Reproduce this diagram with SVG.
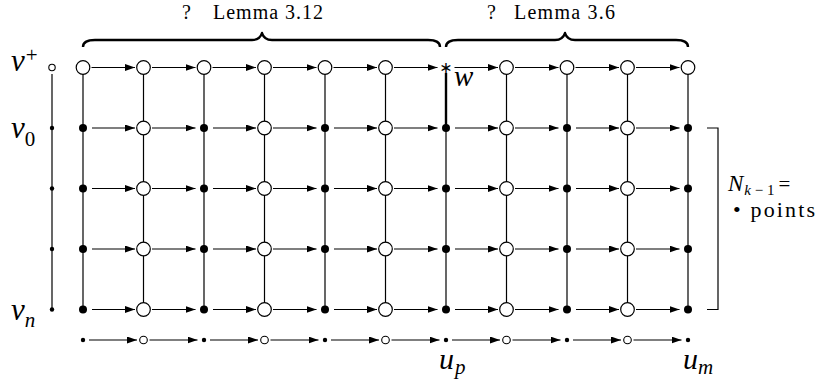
<svg xmlns="http://www.w3.org/2000/svg" xmlns:xlink="http://www.w3.org/1999/xlink" width="817" height="381" viewBox="0 0 817 381">
<style>
.ln{stroke:#000;stroke-width:1.2;fill:none}
.thick{stroke:#000;stroke-width:2.4;fill:none}
.brace{stroke:#000;stroke-width:2.4;fill:none;stroke-linejoin:round}
.ar{stroke:#000;stroke-width:1.2;marker-end:url(#ah)}
.m{font-style:italic}
</style>
<defs>
<marker id="ah" markerUnits="userSpaceOnUse" markerWidth="11" markerHeight="7" refX="10" refY="3.5" orient="auto"><path d="M0,0 L10,3.5 L0,7 z" fill="#000"/></marker>
<circle id="OC" r="6.8" fill="#fff" stroke="#000" stroke-width="1.2"/>
<circle id="FD" r="4" fill="#000"/>
<circle id="SD" r="2.2" fill="#000"/>
<circle id="SO" r="3.8" fill="#fff" stroke="#000" stroke-width="1.1"/>
<circle id="TO" r="3.2" fill="#fff" stroke="#000" stroke-width="1.1"/>
</defs>

<g id="braces">
<path class="brace" d="M83,47 Q83,40 95,40 L252,40 Q260,40 262,33 Q264,40 272,40 L428,40 Q440,40 440,47"/>
<path class="brace" d="M446,47 Q446,40 458,40 L555,40 Q563,40 565,33 Q567,40 575,40 L676,40 Q688,40 688,47"/>
<path class="ln" d="M707,128 H718 V309.5 H707"/>
</g>

<g id="connectors">
<line class="ln" x1="52" y1="74" x2="52" y2="309.5"/>
<line class="ln" x1="83" y1="74" x2="83" y2="309.5"/>
<line class="ln" x1="143.5" y1="74" x2="143.5" y2="309.5"/>
<line class="ln" x1="204" y1="74" x2="204" y2="309.5"/>
<line class="ln" x1="264.5" y1="74" x2="264.5" y2="309.5"/>
<line class="ln" x1="325" y1="74" x2="325" y2="309.5"/>
<line class="ln" x1="385.5" y1="74" x2="385.5" y2="309.5"/>
<line class="thick" x1="446" y1="73" x2="446" y2="128"/>
<line class="ln" x1="446" y1="128" x2="446" y2="309.5"/>
<line class="ln" x1="506.5" y1="74" x2="506.5" y2="309.5"/>
<line class="ln" x1="567" y1="74" x2="567" y2="309.5"/>
<line class="ln" x1="627.5" y1="74" x2="627.5" y2="309.5"/>
<line class="ln" x1="688" y1="74" x2="688" y2="309.5"/>

<line class="ar" x1="91.5" y1="67.5" x2="135" y2="67.5"/>
<line class="ar" x1="152" y1="67.5" x2="195.5" y2="67.5"/>
<line class="ar" x1="212.5" y1="67.5" x2="256" y2="67.5"/>
<line class="ar" x1="273" y1="67.5" x2="316.5" y2="67.5"/>
<line class="ar" x1="333.5" y1="67.5" x2="377" y2="67.5"/>
<line class="ar" x1="394" y1="67.5" x2="437.5" y2="67.5"/>
<line class="ar" x1="454.5" y1="67.5" x2="498" y2="67.5"/>
<line class="ar" x1="515" y1="67.5" x2="558.5" y2="67.5"/>
<line class="ar" x1="575.5" y1="67.5" x2="619" y2="67.5"/>
<line class="ar" x1="636" y1="67.5" x2="679.5" y2="67.5"/>

<line class="ar" x1="92" y1="128" x2="135" y2="128"/>
<line class="ar" x1="152" y1="128" x2="195.5" y2="128"/>
<line class="ar" x1="213" y1="128" x2="256" y2="128"/>
<line class="ar" x1="273" y1="128" x2="316.5" y2="128"/>
<line class="ar" x1="334" y1="128" x2="377" y2="128"/>
<line class="ar" x1="394" y1="128" x2="437.5" y2="128"/>
<line class="ar" x1="455" y1="128" x2="498" y2="128"/>
<line class="ar" x1="515" y1="128" x2="558.5" y2="128"/>
<line class="ar" x1="576" y1="128" x2="619" y2="128"/>
<line class="ar" x1="636" y1="128" x2="679.5" y2="128"/>

<line class="ar" x1="92" y1="188.5" x2="135" y2="188.5"/>
<line class="ar" x1="152" y1="188.5" x2="195.5" y2="188.5"/>
<line class="ar" x1="213" y1="188.5" x2="256" y2="188.5"/>
<line class="ar" x1="273" y1="188.5" x2="316.5" y2="188.5"/>
<line class="ar" x1="334" y1="188.5" x2="377" y2="188.5"/>
<line class="ar" x1="394" y1="188.5" x2="437.5" y2="188.5"/>
<line class="ar" x1="455" y1="188.5" x2="498" y2="188.5"/>
<line class="ar" x1="515" y1="188.5" x2="558.5" y2="188.5"/>
<line class="ar" x1="576" y1="188.5" x2="619" y2="188.5"/>
<line class="ar" x1="636" y1="188.5" x2="679.5" y2="188.5"/>

<line class="ar" x1="92" y1="249" x2="135" y2="249"/>
<line class="ar" x1="152" y1="249" x2="195.5" y2="249"/>
<line class="ar" x1="213" y1="249" x2="256" y2="249"/>
<line class="ar" x1="273" y1="249" x2="316.5" y2="249"/>
<line class="ar" x1="334" y1="249" x2="377" y2="249"/>
<line class="ar" x1="394" y1="249" x2="437.5" y2="249"/>
<line class="ar" x1="455" y1="249" x2="498" y2="249"/>
<line class="ar" x1="515" y1="249" x2="558.5" y2="249"/>
<line class="ar" x1="576" y1="249" x2="619" y2="249"/>
<line class="ar" x1="636" y1="249" x2="679.5" y2="249"/>

<line class="ar" x1="92" y1="309.5" x2="135" y2="309.5"/>
<line class="ar" x1="152" y1="309.5" x2="195.5" y2="309.5"/>
<line class="ar" x1="213" y1="309.5" x2="256" y2="309.5"/>
<line class="ar" x1="273" y1="309.5" x2="316.5" y2="309.5"/>
<line class="ar" x1="334" y1="309.5" x2="377" y2="309.5"/>
<line class="ar" x1="394" y1="309.5" x2="437.5" y2="309.5"/>
<line class="ar" x1="455" y1="309.5" x2="498" y2="309.5"/>
<line class="ar" x1="515" y1="309.5" x2="558.5" y2="309.5"/>
<line class="ar" x1="576" y1="309.5" x2="619" y2="309.5"/>
<line class="ar" x1="636" y1="309.5" x2="679.5" y2="309.5"/>

<line class="ar" x1="89" y1="340" x2="137" y2="340"/>
<line class="ar" x1="149.5" y1="340" x2="197.5" y2="340"/>
<line class="ar" x1="210" y1="340" x2="258" y2="340"/>
<line class="ar" x1="270.5" y1="340" x2="318.5" y2="340"/>
<line class="ar" x1="331" y1="340" x2="379" y2="340"/>
<line class="ar" x1="391.5" y1="340" x2="439.5" y2="340"/>
<line class="ar" x1="452" y1="340" x2="500" y2="340"/>
<line class="ar" x1="512.5" y1="340" x2="560.5" y2="340"/>
<line class="ar" x1="573" y1="340" x2="621" y2="340"/>
<line class="ar" x1="633.5" y1="340" x2="681.5" y2="340"/>
</g>

<g id="nodes">
<g id="vplus"><use xlink:href="#TO" x="52" y="67.5"/></g>
<g id="L1"><use xlink:href="#SD" x="52" y="128"/></g>
<g id="L2"><use xlink:href="#SD" x="52" y="188.5"/></g>
<g id="L3"><use xlink:href="#SD" x="52" y="249"/></g>
<g id="L4"><use xlink:href="#SD" x="52" y="309.5"/></g>

<g id="T0"><use xlink:href="#OC" x="83" y="67.5"/></g>
<g id="T1"><use xlink:href="#OC" x="143.5" y="67.5"/></g>
<g id="T2"><use xlink:href="#OC" x="204" y="67.5"/></g>
<g id="T3"><use xlink:href="#OC" x="264.5" y="67.5"/></g>
<g id="T4"><use xlink:href="#OC" x="325" y="67.5"/></g>
<g id="T5"><use xlink:href="#OC" x="385.5" y="67.5"/></g>
<g id="T6"><text x="446" y="73" text-anchor="middle" font-family="DejaVu Sans,sans-serif" font-size="16">∗</text></g>
<g id="T7"><use xlink:href="#OC" x="506.5" y="67.5"/></g>
<g id="T8"><use xlink:href="#OC" x="567" y="67.5"/></g>
<g id="T9"><use xlink:href="#OC" x="627.5" y="67.5"/></g>
<g id="T10"><use xlink:href="#OC" x="688" y="67.5"/></g>

<g id="R1C0"><use xlink:href="#FD" x="83" y="128"/></g>
<g id="R1C1"><use xlink:href="#OC" x="143.5" y="128"/></g>
<g id="R1C2"><use xlink:href="#FD" x="204" y="128"/></g>
<g id="R1C3"><use xlink:href="#OC" x="264.5" y="128"/></g>
<g id="R1C4"><use xlink:href="#FD" x="325" y="128"/></g>
<g id="R1C5"><use xlink:href="#OC" x="385.5" y="128"/></g>
<g id="R1C6"><use xlink:href="#FD" x="446" y="128"/></g>
<g id="R1C7"><use xlink:href="#OC" x="506.5" y="128"/></g>
<g id="R1C8"><use xlink:href="#FD" x="567" y="128"/></g>
<g id="R1C9"><use xlink:href="#OC" x="627.5" y="128"/></g>
<g id="R1C10"><use xlink:href="#FD" x="688" y="128"/></g>

<g id="R2C0"><use xlink:href="#FD" x="83" y="188.5"/></g>
<g id="R2C1"><use xlink:href="#OC" x="143.5" y="188.5"/></g>
<g id="R2C2"><use xlink:href="#FD" x="204" y="188.5"/></g>
<g id="R2C3"><use xlink:href="#OC" x="264.5" y="188.5"/></g>
<g id="R2C4"><use xlink:href="#FD" x="325" y="188.5"/></g>
<g id="R2C5"><use xlink:href="#OC" x="385.5" y="188.5"/></g>
<g id="R2C6"><use xlink:href="#FD" x="446" y="188.5"/></g>
<g id="R2C7"><use xlink:href="#OC" x="506.5" y="188.5"/></g>
<g id="R2C8"><use xlink:href="#FD" x="567" y="188.5"/></g>
<g id="R2C9"><use xlink:href="#OC" x="627.5" y="188.5"/></g>
<g id="R2C10"><use xlink:href="#FD" x="688" y="188.5"/></g>

<g id="R3C0"><use xlink:href="#FD" x="83" y="249"/></g>
<g id="R3C1"><use xlink:href="#OC" x="143.5" y="249"/></g>
<g id="R3C2"><use xlink:href="#FD" x="204" y="249"/></g>
<g id="R3C3"><use xlink:href="#OC" x="264.5" y="249"/></g>
<g id="R3C4"><use xlink:href="#FD" x="325" y="249"/></g>
<g id="R3C5"><use xlink:href="#OC" x="385.5" y="249"/></g>
<g id="R3C6"><use xlink:href="#FD" x="446" y="249"/></g>
<g id="R3C7"><use xlink:href="#OC" x="506.5" y="249"/></g>
<g id="R3C8"><use xlink:href="#FD" x="567" y="249"/></g>
<g id="R3C9"><use xlink:href="#OC" x="627.5" y="249"/></g>
<g id="R3C10"><use xlink:href="#FD" x="688" y="249"/></g>

<g id="R4C0"><use xlink:href="#FD" x="83" y="309.5"/></g>
<g id="R4C1"><use xlink:href="#OC" x="143.5" y="309.5"/></g>
<g id="R4C2"><use xlink:href="#FD" x="204" y="309.5"/></g>
<g id="R4C3"><use xlink:href="#OC" x="264.5" y="309.5"/></g>
<g id="R4C4"><use xlink:href="#FD" x="325" y="309.5"/></g>
<g id="R4C5"><use xlink:href="#OC" x="385.5" y="309.5"/></g>
<g id="R4C6"><use xlink:href="#FD" x="446" y="309.5"/></g>
<g id="R4C7"><use xlink:href="#OC" x="506.5" y="309.5"/></g>
<g id="R4C8"><use xlink:href="#FD" x="567" y="309.5"/></g>
<g id="R4C9"><use xlink:href="#OC" x="627.5" y="309.5"/></g>
<g id="R4C10"><use xlink:href="#FD" x="688" y="309.5"/></g>

<g id="B0"><use xlink:href="#SD" x="83" y="340"/></g>
<g id="B1"><use xlink:href="#SO" x="143.5" y="340"/></g>
<g id="B2"><use xlink:href="#SD" x="204" y="340"/></g>
<g id="B3"><use xlink:href="#SO" x="264.5" y="340"/></g>
<g id="B4"><use xlink:href="#SD" x="325" y="340"/></g>
<g id="B5"><use xlink:href="#SO" x="385.5" y="340"/></g>
<g id="B6"><use xlink:href="#SD" x="446" y="340"/></g>
<g id="B7"><use xlink:href="#SO" x="506.5" y="340"/></g>
<g id="B8"><use xlink:href="#SD" x="567" y="340"/></g>
<g id="B9"><use xlink:href="#SO" x="627.5" y="340"/></g>
<g id="B10"><use xlink:href="#SD" x="688" y="340"/></g>
</g>

<g id="labels" font-family="'Liberation Serif','Times New Roman',serif" fill="#000">
<text x="182" y="19" font-size="20">?</text>
<text x="213" y="19" font-size="20" textLength="110" lengthAdjust="spacing">Lemma 3.12</text>
<text x="487" y="19" font-size="20">?</text>
<text x="514" y="19" font-size="20" textLength="101" lengthAdjust="spacing">Lemma 3.6</text>
<text x="11" y="71" font-size="31"><tspan class="m">v</tspan><tspan font-size="21" dy="-9" dx="1">+</tspan></text>
<text x="11" y="138" font-size="31"><tspan class="m">v</tspan><tspan font-size="21" dy="8">0</tspan></text>
<text x="11" y="319.5" font-size="31"><tspan class="m">v</tspan><tspan font-size="21" dy="7.5" class="m">n</tspan></text>
<text x="454" y="86" font-size="29" class="m">w</text>
<text x="439" y="369" font-size="30"><tspan class="m">u</tspan><tspan font-size="21" dy="5" dx="1" class="m">p</tspan></text>
<text x="683" y="369" font-size="30"><tspan class="m">u</tspan><tspan font-size="21" dy="5" class="m">m</tspan></text>
<text x="728" y="191" font-size="23"><tspan class="m">N</tspan><tspan font-size="15" dy="3.5" dx="1"><tspan class="m">k</tspan> − 1</tspan><tspan font-size="21" dy="-3.5" dx="4">=</tspan></text>
<text x="733" y="217" font-size="22" textLength="82" lengthAdjust="spacing">• points</text>
</g>
</svg>
